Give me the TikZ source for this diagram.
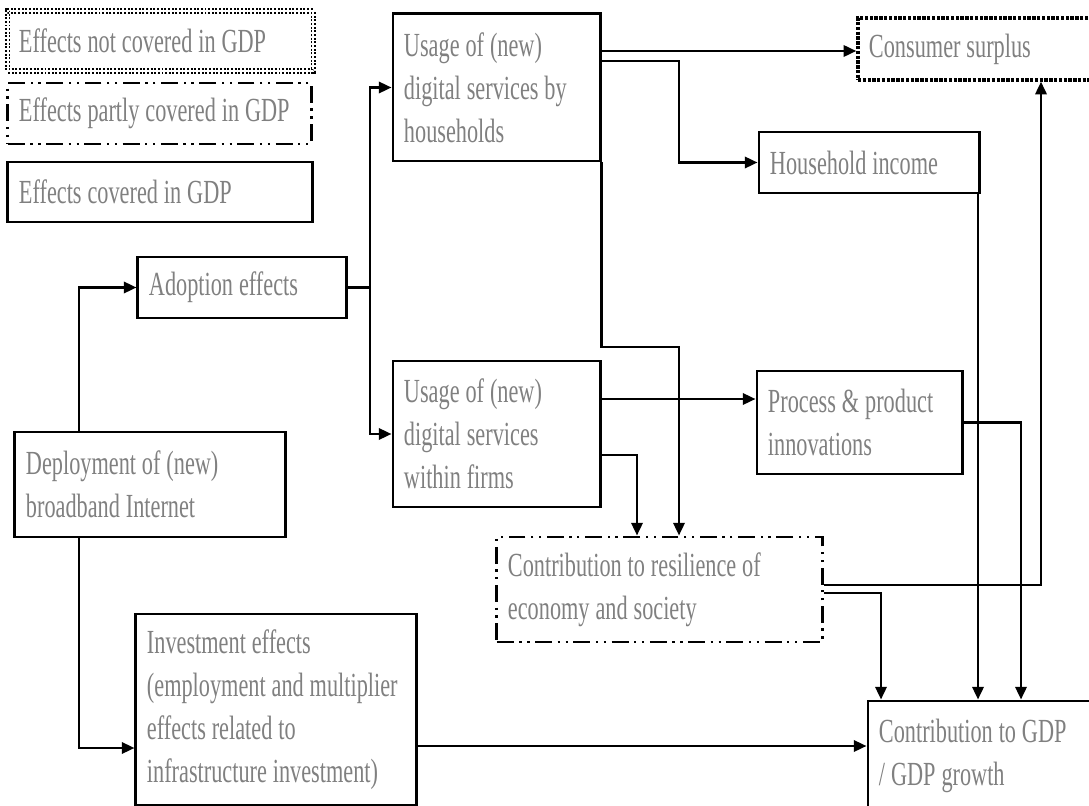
\documentclass[tikz,border=0pt]{standalone}
\usepackage{fontspec}
\setmainfont{Liberation Serif}[FakeStretch=0.66]
\usepackage{xcolor}
\usetikzlibrary{arrows.meta}
\definecolor{txtgray}{RGB}{128,128,128}

\begin{document}
\begin{tikzpicture}[x=0.025cm, y=-0.025cm,
  box/.style={draw, line width=2.1pt, text=txtgray, align=left, inner xsep=0.275cm, inner ysep=0pt, font=\fontsize{24}{30.5}\selectfont, execute at begin node={\spaceskip=4.2pt plus 1pt minus 0.5pt\hyphenpenalty=10000\relax}},
  notcov/.style={box, line width=2.4pt, densely dotted},
  notcovkey/.style={box, line width=1.4pt, double, double distance=0.8pt, dash pattern=on 1.4pt off 1.2pt},
  partcov/.style={box, dash pattern=on 12pt off 4pt on 1.6pt off 4pt on 1.6pt off 4pt},
  arr/.style={-{Triangle[length=9pt,width=8pt]}, line width=1.8pt}]
\useasboundingbox (0,0) rectangle (1089,806);
% key
\draw (160.5,41) node[notcovkey, minimum width=7.625cm, minimum height=1.5cm, text width=7.075cm](keynot) {Effects not covered in GDP};
\draw (159.5,113.5) node[partcov, minimum width=7.575cm, minimum height=1.525cm, text width=7.025cm](keypart) {Effects partly covered in GDP};
\draw (160,192) node[box, minimum width=7.6cm, minimum height=1.5cm, text width=7.05cm](keycov) {Effects covered in GDP};
% boxes
\draw (150,484.5) node[box, minimum width=6.75cm, minimum height=2.625cm, text width=6.2cm](deploy) {Deployment of (new)\\broadband Internet};
\draw (242,287.5) node[box, minimum width=5.2cm, minimum height=1.525cm, text width=4.65cm](adopt) {Adoption effects};
\draw (276,709.5) node[box, minimum width=7.0cm, minimum height=4.775cm, text width=6.45cm](invest) {Investment effects\\(employment and multiplier\\effects related to\\infrastructure investment)};
\draw (496.5,87.5) node[box, minimum width=5.175cm, minimum height=3.675cm, text width=4.625cm](usehh) {Usage of (new)\\digital services by\\households};
\draw (496.5,434) node[box, minimum width=5.175cm, minimum height=3.65cm, text width=4.625cm](usefirm) {Usage of (new)\\digital services\\within firms};
\draw (976.5,49) node[notcov, minimum width=5.925cm, minimum height=1.55cm, text width=5.375cm](surplus) {Consumer surplus};
\draw (869,162.5) node[box, minimum width=5.5cm, minimum height=1.525cm, text width=4.95cm](income) {Household income};
\draw (859.5,422.5) node[box, minimum width=5.125cm, minimum height=2.575cm, text width=4.575cm](innov) {Process \& product\\innovations};
\draw (659.5,589.5) node[partcov, minimum width=8.125cm, minimum height=2.625cm, text width=7.575cm](resil) {Contribution to resilience of\\economy and society};
\draw (989,755.5) node[box, minimum width=6.05cm, minimum height=2.725cm, text width=5.5cm](gdp) {Contribution to GDP\\/ GDP growth};
% links
\draw[arr] (deploy.north -| 79,0) |- (adopt.west);
\draw[arr] (deploy.south -| 79,0) |- (invest.west |- 0,748);
\draw[arr] (adopt.east) -- (adopt.east -| 370,0) |- (usehh.west);
\draw[arr] (adopt.east -| 370,0) |- (usefirm.west);
\draw[arr] (usehh.east |- 0,51) -- (surplus.west |- 0,51);
\draw[arr] (usehh.east |- 0,61) -- (679,61) |- (income.west);
\draw[arr] (usehh.south east) |- (679,347) -- (resil.north -| 679,0);
\draw[arr] (usefirm.east |- 0,399) -- (innov.west |- 0,399);
\draw[arr] (usefirm.east |- 0,455) -| (resil.north -| 637,0);
\draw[arr] (innov.east) -| (gdp.north -| 1021,0);
\draw[arr] (income.south -| 978,0) -- (gdp.north -| 978,0);
\draw[arr] (resil.east |- 0,585) -| (surplus.south -| 1041,0);
\draw[arr] (resil.east |- 0,593) -| (gdp.north -| 881,0);
\draw[arr] (invest.east |- 0,746) -- (gdp.west |- 0,746);
\end{tikzpicture}
\end{document}
